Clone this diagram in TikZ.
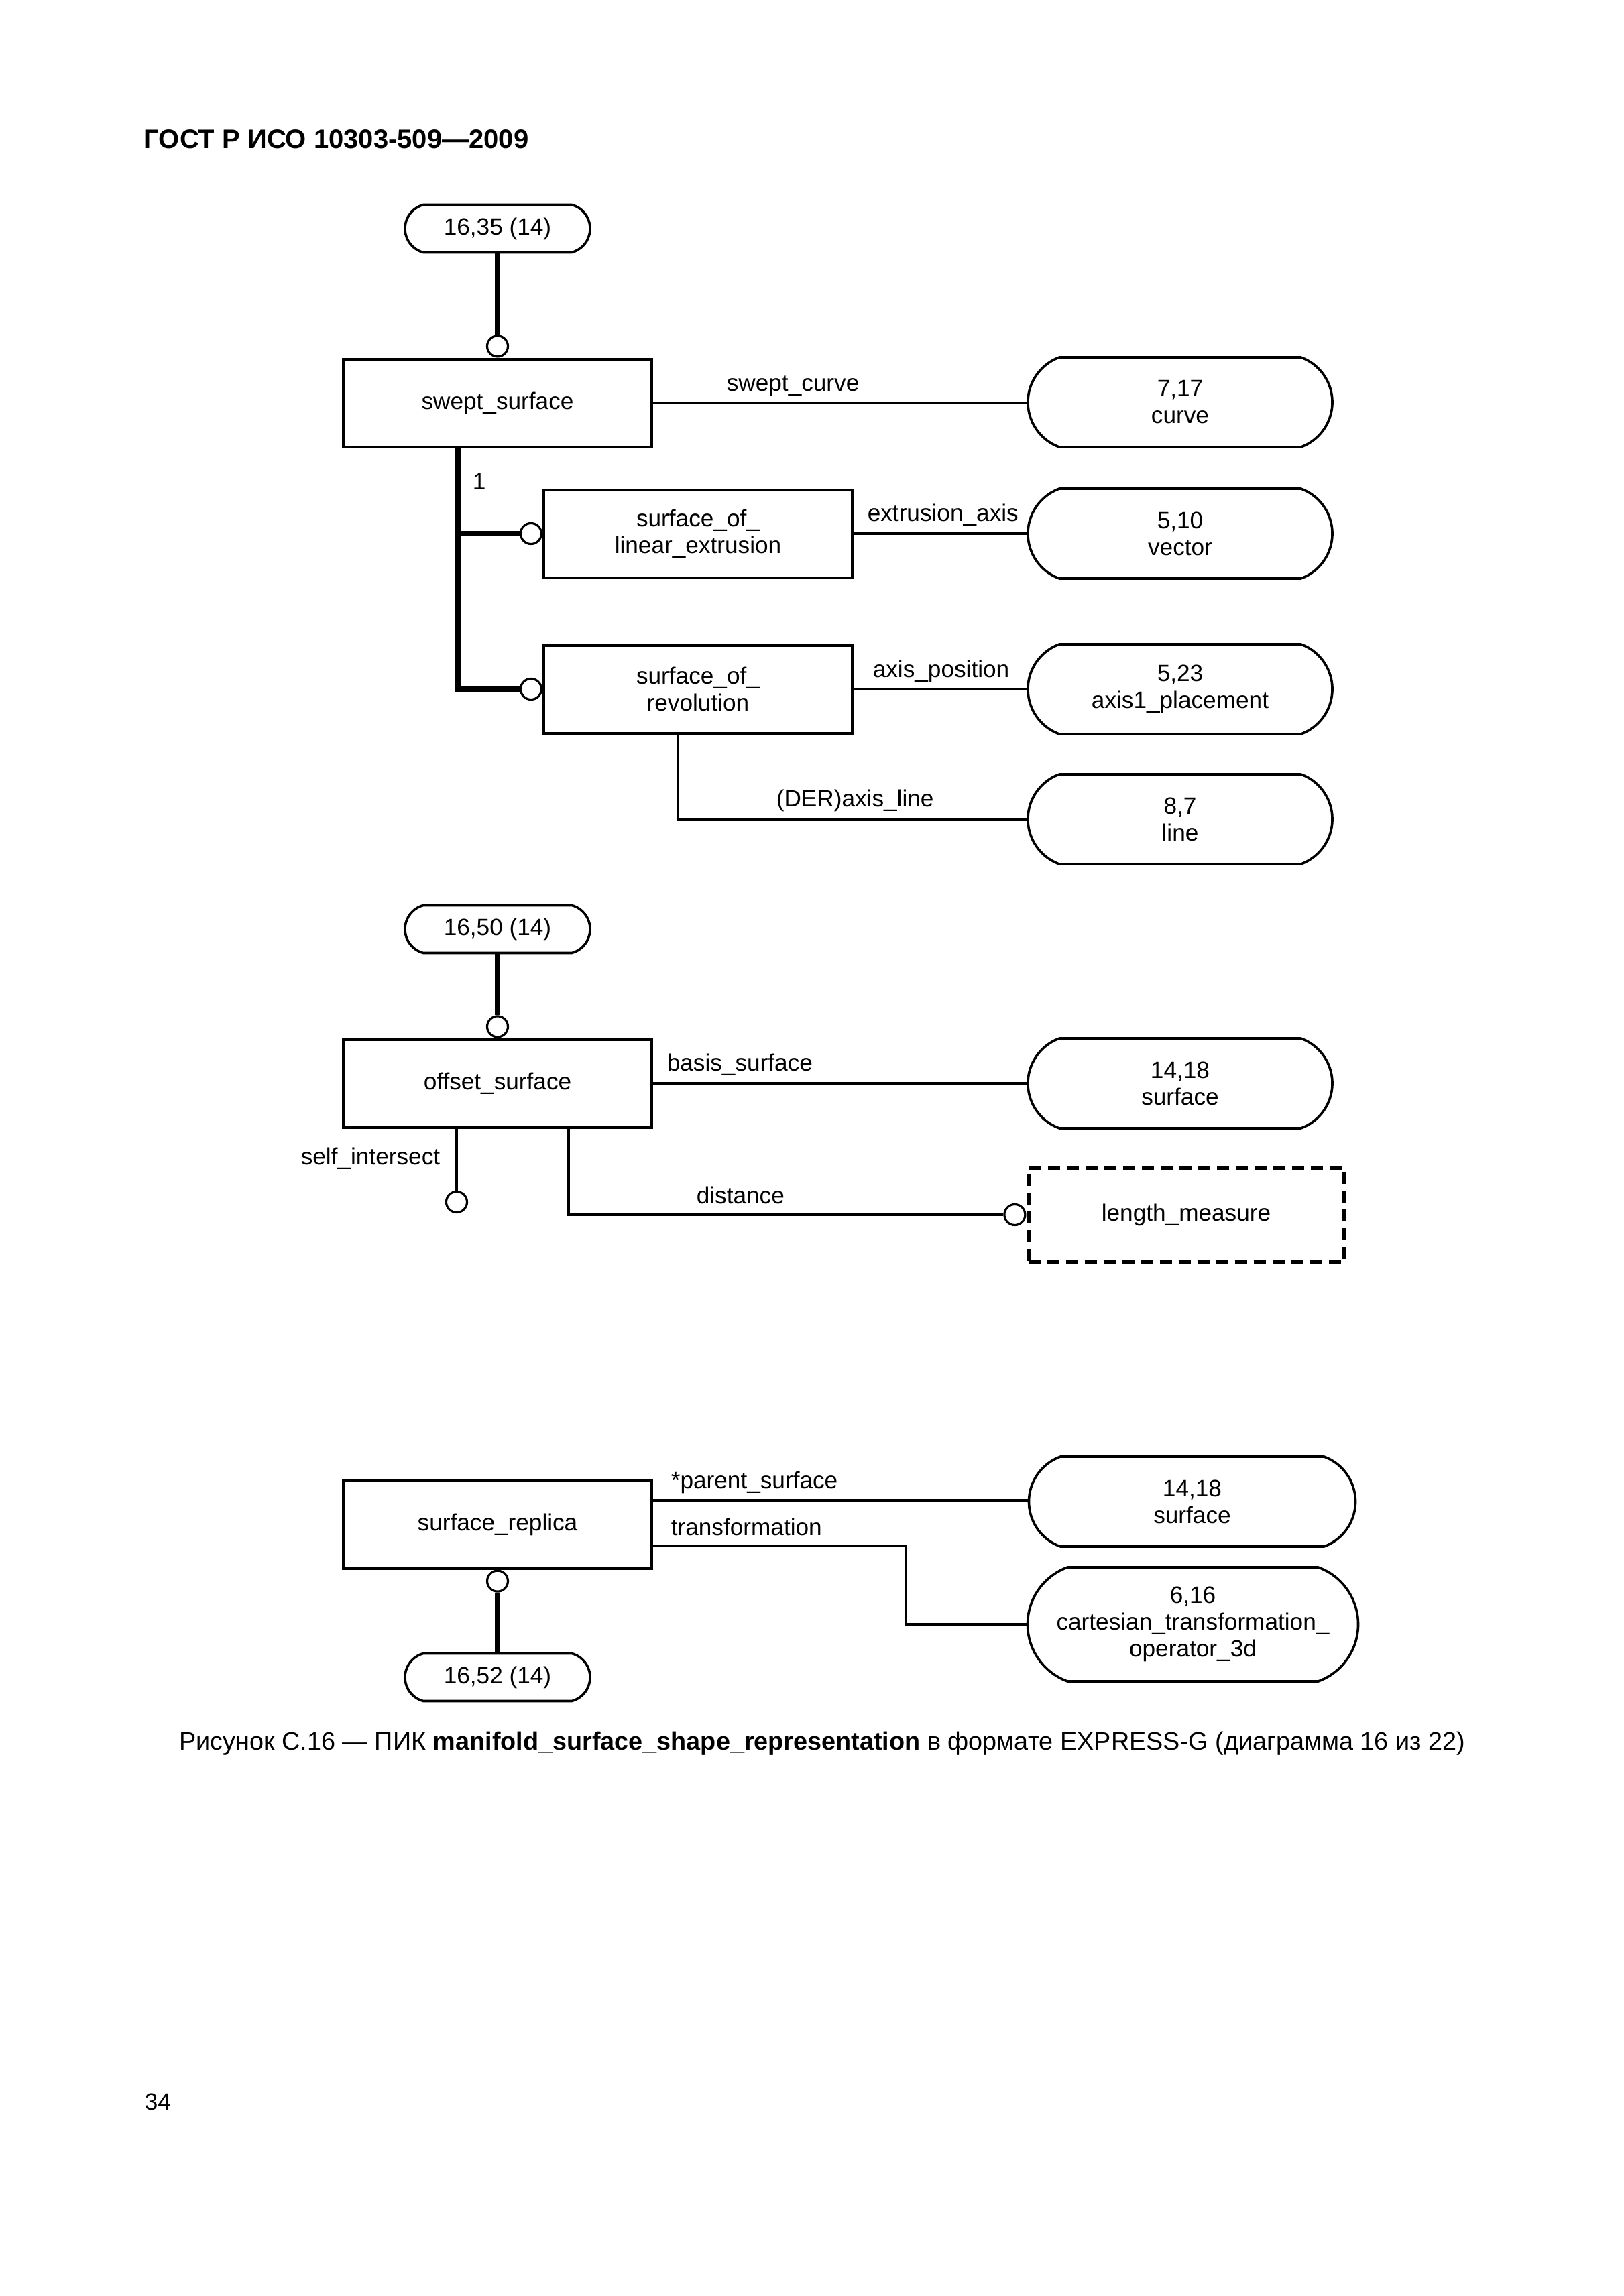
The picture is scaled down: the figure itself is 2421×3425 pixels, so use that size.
\documentclass[tikz,border=0pt]{standalone}
\usepackage{fontspec}
\setmainfont{Liberation Sans}
\usetikzlibrary{shapes.misc,positioning}

\tikzset{
  ent/.style={draw,line width=1pt,rectangle,minimum width=115pt,minimum height=32.75pt,align=center,inner sep=0pt},
  ref/.style={draw,line width=0.9pt,rounded rectangle,rounded rectangle arc length=150,minimum width=69pt,minimum height=17.75pt,inner sep=0pt},
  typ/.style={draw,line width=0.9pt,rounded rectangle,rounded rectangle arc length=140,minimum width=113.5pt,minimum height=33.5pt,align=center,inner sep=0pt},
  circ/.style={draw,line width=0.8pt,circle,fill=white,minimum size=7.75pt,inner sep=0pt},
  lbl/.style={inner sep=0pt,anchor=base west},
  rel/.style={line width=1pt},
  inh/.style={line width=1.9pt},
}

\begin{document}
\begin{tikzpicture}[x=0.25pt,y=-0.25pt,font=\fontsize{8.8}{10}\selectfont]
\useasboundingbox (0,0) rectangle (2421,3425);
\node[lbl,font=\fontsize{10}{12}\selectfont\bfseries] (hdr) at (214,222) {ГОСТ Р ИСО 10303-509—2009};

\begin{scope}
  \node[ref] (r1) at (742,341) {16,35 (14)};
  \node[ent] (ss) at (742,601) {swept\_surface};
  \node[circ,above=0pt of ss] (c1) {};
  \node[typ] (curve) at (1760,600) {7,17\\curve};
  \node[ent] (sle) at (1041,796) {surface\_of\_\\linear\_extrusion};
  \node[circ,left=0pt of sle] (c2) {};
  \node[typ] (vec) at (1760,796) {5,10\\vector};
  \node[ent] (sor) at (1041,1028) {surface\_of\_\\revolution};
  \node[circ,left=0pt of sor] (c3) {};
  \node[typ] (ax1) at (1760,1028) {5,23\\axis1\_placement};
  \node[typ] (ln) at (1760,1222) {8,7\\line};
  \coordinate (tr) at (683,667);
  \draw[inh] (r1.south) -- (c1.north);
  \draw[rel] (ss.east) -- (ss.east -| curve.west);
  \draw[inh] (tr) -- (tr |- c3) -- (c3.west);
  \draw[inh] (tr |- c2) -- (c2.west);
  \draw[rel] (sle.east) -- (vec.west);
  \draw[rel] (sor.east) -- (ax1.west);
  \draw[rel] ([xshift=-7.5pt]sor.south) |- (ln.west);
  \node[lbl] (one) at (704,730) {1};
  \node[lbl] (lswc) at (1083,583) {swept\_curve};
  \node[lbl] (lext) at (1293,777) {extrusion\_axis};
  \node[lbl] (lpos) at (1301,1010) {axis\_position};
  \node[lbl] (laxl) at (1157,1203) {(DER)axis\_line};
\end{scope}

\begin{scope}
  \node[ref] (r2) at (742,1386) {16,50 (14)};
  \node[ent] (os) at (742,1616) {offset\_surface};
  \node[circ,above=0pt of os] (c4) {};
  \node[typ] (srf1) at (1760,1616) {14,18\\surface};
  \node[draw,line width=1.5pt,dash pattern=on 4.5pt off 2.5pt,minimum width=117.75pt,minimum height=35.25pt,inner sep=0pt] (lm) at (1769,1812) {length\_measure};
  \node[circ,left=0pt of lm] (c6) {};
  \node[circ] (c5) at (681,1793) {};
  \draw[inh] (r2.south) -- (c4.north);
  \draw[rel] (os.east) -- (srf1.west);
  \draw[rel] ([xshift=-15.25pt]os.south) -- (c5.north);
  \draw[rel] ([xshift=26.5pt]os.south) |- (c6.west);
  \node[lbl] (lbas) at (994,1597) {basis\_surface};
  \node[lbl] (lsel) at (448,1737) {self\_intersect};
  \node[lbl] (ldis) at (1038,1795) {distance};
\end{scope}

\begin{scope}
  \node[ent] (sr) at (742,2274) {surface\_replica};
  \node[circ,below=0pt of sr] (c7) {};
  \node[ref] (r3) at (742,2502) {16,52 (14)};
  \node[typ,minimum width=121.75pt] (srf2) at (1778,2240) {14,18\\surface};
  \node[typ,minimum width=123.25pt,minimum height=42.5pt] (cto) at (1779,2423) {6,16\\cartesian\_transformation\_\\operator\_3d};
  \draw[inh] (c7.south) -- (r3.north);
  \draw[rel] ([yshift=9pt]sr.east) -- ([yshift=9pt]sr.east -| srf2.west);
  \draw[rel] ([yshift=-8pt]sr.east) -- ++(94.25pt,0) |- (cto.west);
  \node[lbl] (lpar) at (1000,2220) {*parent\_surface};
  \node[lbl] (ltrn) at (1000,2290) {transformation};
\end{scope}

\node[anchor=base,font=\fontsize{9.45}{11}\selectfont] (cap) at (1226,2610) {Рисунок С.16 — ПИК \textbf{manifold\_surface\_shape\_representation} в формате EXPRESS-G (диаграмма 16 из 22)};
\node[lbl] (pg) at (215,3147) {34};
\end{tikzpicture}
\end{document}
